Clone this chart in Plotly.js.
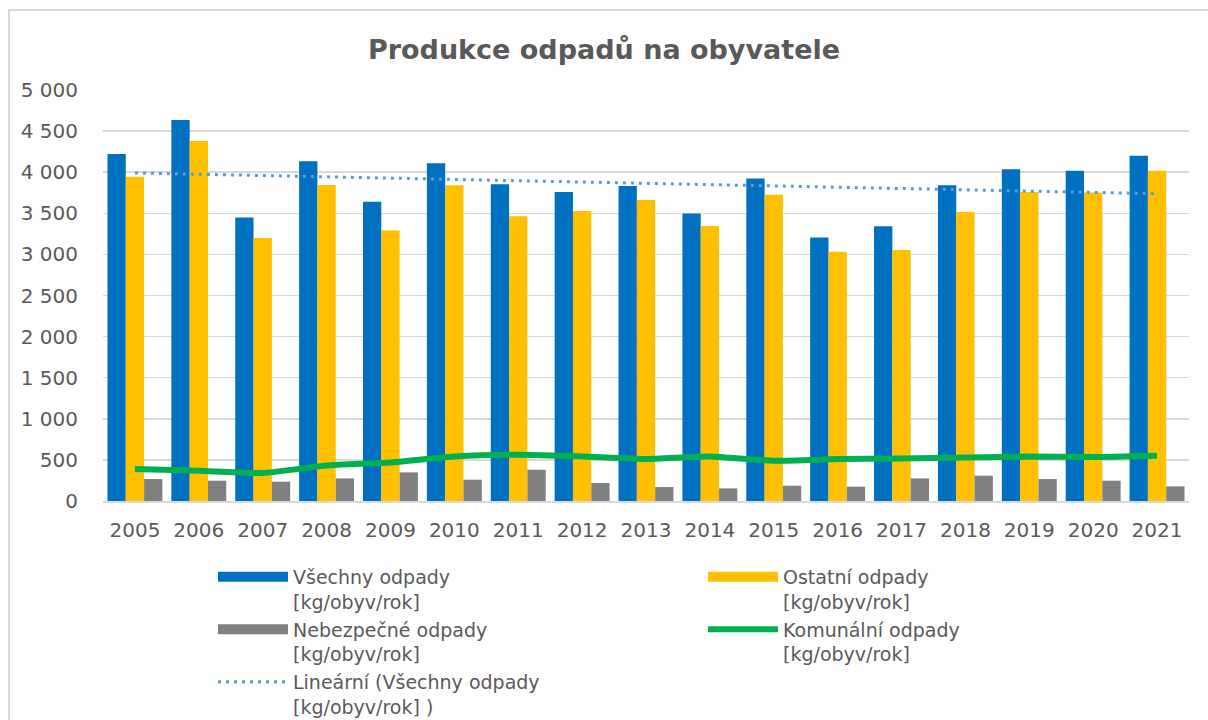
<!DOCTYPE html>
<html>
<head>
<meta charset="utf-8">
<script src="https://cdn.plot.ly/plotly-3.0.1.min.js"></script>
<style>
  html, body { margin: 0; padding: 0; background: #ffffff; }
  #wrap { position: relative; width: 1208px; height: 720px; overflow: hidden; }
  #chart { position: absolute; left: 0; top: 0; width: 1208px; height: 720px; }
  #frame { position: absolute; left: 8px; top: 9px; width: 1300px; height: 800px;
           border-left: 2px solid #D9D9D9; border-top: 2px solid #D9D9D9; pointer-events: none; }
</style>
</head>
<body>
<div id="wrap">
  <div id="chart"></div>
  <div id="frame"></div>
</div>
<script>
// ---- data ----
const years = ["2005","2006","2007","2008","2009","2010","2011","2012","2013","2014","2015","2016","2017","2018","2019","2020","2021"];
const vsechny = [4222,4635,3448,4133,3642,4109,3853,3760,3833,3497,3922,3205,3343,3841,4036,4019,4201];
const ostatni = [3946,4380,3201,3845,3290,3841,3465,3529,3663,3347,3727,3031,3055,3517,3760,3752,4019];
const nebezpecne = [267,247,235,275,348,259,380,219,170,153,186,174,275,308,267,247,178];
const komunalni = [389,368,340,433,469,542,563,542,510,542,490,510,518,530,542,535,551];
const yTickVals = [0,500,1000,1500,2000,2500,3000,3500,4000,4500,5000];
const yTickText = ["0","500","1 000","1 500","2 000","2 500","3 000","3 500","4 000","4 500","5 000"];

const names = {
  vsechny: "Všechny odpady<br>[kg/obyv/rok]",
  ostatni: "Ostatní odpady<br>[kg/obyv/rok]",
  nebezpecne: "Nebezpečné odpady<br>[kg/obyv/rok]",
  komunalni: "Komunální odpady<br>[kg/obyv/rok]",
  trend: "Lineární (Všechny odpady<br>[kg/obyv/rok] )"
};
const colors = { vsechny: "#0070C0", ostatni: "#FFC000", nebezpecne: "#808080", komunalni: "#00B050", trend: "#5B9BD5" };

// Excel-style linear trendline (least squares) of "Všechny odpady"
const n = vsechny.length;
const idx = vsechny.map((_, i) => i + 1);
const mx = idx.reduce((a, b) => a + b, 0) / n;
const my = vsechny.reduce((a, b) => a + b, 0) / n;
let sxy = 0, sxx = 0;
for (let i = 0; i < n; i++) { sxy += (idx[i] - mx) * (vsechny[i] - my); sxx += (idx[i] - mx) ** 2; }
const slope = sxy / sxx, icpt = my - slope * mx;
const trend = idx.map(x => icpt + slope * x);

const bar = (y, key) => ({
  type: "bar", x: years, y: y, name: names[key], showlegend: false,
  marker: { color: colors[key], line: { width: 0 } }
});
const proxy = (key, width, dash, rank) => ({
  type: "scatter", mode: "lines", x: [null], y: [null], name: names[key],
  line: { color: colors[key], width: width, dash: dash || "solid" }, legendrank: rank
});
const trendDash = "3px,5px";

const data = [
  bar(vsechny, "vsechny"),
  bar(ostatni, "ostatni"),
  bar(nebezpecne, "nebezpecne"),
  { type: "scatter", mode: "lines", x: years, y: komunalni, name: names.komunalni, showlegend: false,
    line: { color: colors.komunalni, width: 6, shape: "spline", smoothing: 0.5 } },
  { type: "scatter", mode: "lines", x: years, y: trend, name: names.trend, showlegend: false,
    line: { color: colors.trend, width: 3, dash: trendDash } },
  proxy("vsechny", 12, null, 1),
  proxy("ostatni", 12, null, 2),
  proxy("nebezpecne", 12, null, 3),
  proxy("komunalni", 6, null, 4),
  proxy("trend", 3, trendDash, 5)
];

const layout = {
  width: 1208, height: 720,
  margin: { l: 103, r: 19, t: 90, b: 219 },
  paper_bgcolor: "#ffffff", plot_bgcolor: "#ffffff",
  font: { family: "DejaVu Sans, sans-serif", size: 20, color: "#595959" },
  title: { text: "<b>Produkce odpadů na obyvatele</b>", font: { family: "DejaVu Sans, sans-serif", size: 27, color: "#595959" },
           x: 0.5, xref: "container", xanchor: "center", y: 1 - 50 / 720, yref: "container", yanchor: "middle" },
  barmode: "group", bargap: 0.14, bargroupgap: 0,
  xaxis: { type: "category", showgrid: false, showline: true, linecolor: "#D9D9D9", linewidth: 2,
           ticks: "outside", ticklen: 10, tickcolor: "rgba(0,0,0,0)", tickfont: { size: 20, color: "#595959" }, fixedrange: true },
  yaxis: { range: [0, 5000], tickvals: yTickVals, ticktext: yTickText, showgrid: true, gridcolor: "#D9D9D9", gridwidth: 1.5,
           zeroline: false, showline: false, ticks: "outside", ticklen: 20, tickcolor: "rgba(0,0,0,0)",
           tickfont: { size: 20, color: "#595959" }, fixedrange: true },
  showlegend: true,
  legend: { orientation: "h", x: (213 - 103) / 1086, xanchor: "left", y: 1 - 558 / 720, yref: "container", yanchor: "top",
            entrywidth: 405, entrywidthmode: "pixels", itemwidth: 70, traceorder: "normal",
            font: { size: 19, color: "#595959" }, bgcolor: "rgba(0,0,0,0)", valign: "top" },
  hovermode: false
};

Plotly.newPlot("chart", data, layout, { displayModeBar: false, staticPlot: true });
</script>
</body>
</html>
